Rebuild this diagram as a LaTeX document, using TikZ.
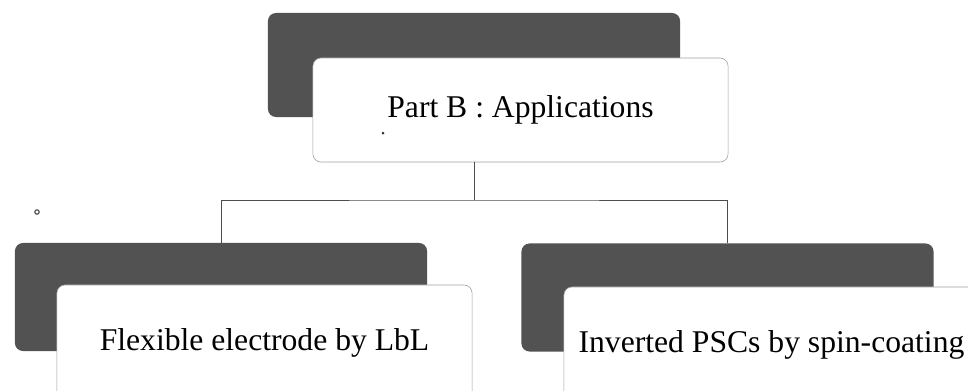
\documentclass[tikz,border=0pt]{standalone}
\usepackage{fontspec}
\setmainfont{Liberation Serif}
\begin{document}
\begin{tikzpicture}[
        x=0.025cm, y=-0.025cm,
        back/.style={
            rectangle,
            rounded corners=0.2cm,
            fill=black!68,
            minimum width=10.3cm,
            minimum height=2.7cm,
            inner sep=0pt
        },
        front/.style={
            draw=gray!75,
            rectangle,
            rounded corners=0.2cm,
            fill=white,
            minimum width=10.375cm,
            minimum height=2.9cm,
            font=\fontsize{22.5}{27}\selectfont
        },
        link/.style={draw=black!70, line width=0.6pt}
    ]
        \useasboundingbox (0,0) rectangle (968,390);
        \clip (0,0) rectangle (968,390);

        % Shaded back boxes
        \node[back, minimum height=2.6cm] (topback) at (474,65) {};
        \node[back] (leftback) at (221,297) {};
        \node[back] (rightback) at (727.5,297.5) {};

        % Front boxes with labels
        \node[front, minimum height=2.6cm] (topfront) at (520.5,110) {Part B : Applications};
        \node[front] (leftfront) at (264.5,343) {Flexible electrode by LbL};
        \node[front] (rightfront) at (771.5,345) {Inverted PSCs by spin-coating};

        % Tree connectors
        \coordinate (split) at (474,200);
        \draw[link] (topfront.south -| topback.south) -- (split);
        \draw[link] (leftback.north) |- (split) -| (rightback.north);

        % Stray specks
        \fill[black!80] (383,133) circle (1.5);
        \draw[black!70, line width=0.8pt] (37,212) circle (2.2);

    \end{tikzpicture}
\end{document}
